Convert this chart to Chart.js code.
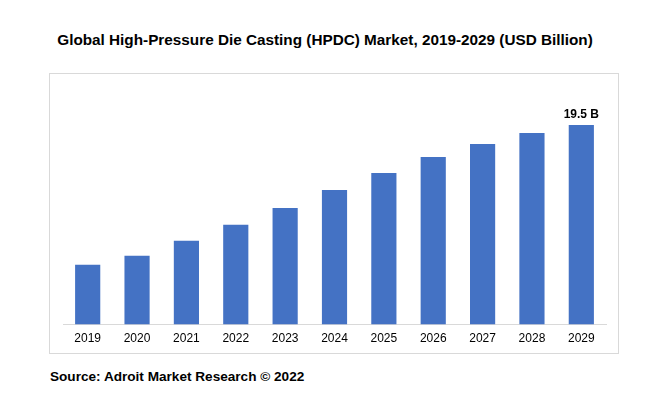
<!DOCTYPE html>
<html lang="en">
<head>
  <meta charset="UTF-8">
  <title>Global HPDC Market</title>
  <script src="https://cdn.jsdelivr.net/npm/chart.js"></script>
  <style>
    body { margin: 0; width: 650px; height: 398px; background: #fff; font-family: "Liberation Sans", Arial, sans-serif; position: relative; overflow: hidden; }
    .title { position: absolute; top: 31px; left: 0; width: 650px; text-align: center; font-weight: bold; font-size: 15.3px; color: #000; }
    .box { position: absolute; left: 49px; top: 73px; width: 568px; height: 279px; border: 1px solid #d9d9d9; }
    .box canvas { display: block; }
    .source { position: absolute; left: 50px; top: 369px; font-weight: bold; font-size: 13.6px; color: #000; }
  </style>
</head>
<body>
  <div class="title">Global High-Pressure Die Casting (HPDC) Market, 2019-2029 (USD Billion)</div>
  <div class="box"><canvas id="chart" width="568" height="279"></canvas></div>
  <div class="source">Source: Adroit Market Research © 2022</div>

  <script>
    // values (USD billion)
    const years = ["2019", "2020", "2021", "2022", "2023", "2024", "2025", "2026", "2027", "2028", "2029"];
    const marketSize = [5.85, 6.73, 8.19, 9.75, 11.4, 13.16, 14.82, 16.38, 17.65, 18.72, 19.5];
    const barLabels = ["", "", "", "", "", "", "", "", "", "", "19.5 B"];

    // draw the single value label above the last bar
    const labelPlugin = {
      id: "barLabels",
      afterDatasetsDraw(chart) {
        const ctx = chart.ctx;
        const meta = chart.getDatasetMeta(0);
        ctx.save();
        ctx.font = "bold 12px 'Liberation Sans', Arial, sans-serif";
        ctx.fillStyle = "#000";
        ctx.textAlign = "center";
        ctx.textBaseline = "bottom";
        meta.data.forEach((bar, i) => {
          if (barLabels[i]) ctx.fillText(barLabels[i], bar.x, bar.y - 4);
        });
        ctx.restore();
      }
    };

    new Chart(document.getElementById("chart"), {
      type: "bar",
      data: {
        labels: years,
        datasets: [{
          data: marketSize,
          backgroundColor: "#4472c4",
          categoryPercentage: 1,
          barPercentage: 0.51
        }]
      },
      options: {
        responsive: false,
        animation: false,
        layout: { padding: { left: 13, right: 12, top: 5, bottom: 0 } },
        plugins: { legend: { display: false }, tooltip: { enabled: false } },
        scales: {
          x: {
            grid: { display: false, drawTicks: false },
            border: { display: true, color: "#d9d9d9", width: 1 },
            ticks: { color: "#000", padding: 7, font: { size: 12, family: "'Liberation Sans', Arial, sans-serif" } }
          },
          y: { display: false, min: 0, max: 24 }
        }
      },
      plugins: [labelPlugin]
    });
  </script>
</body>
</html>
